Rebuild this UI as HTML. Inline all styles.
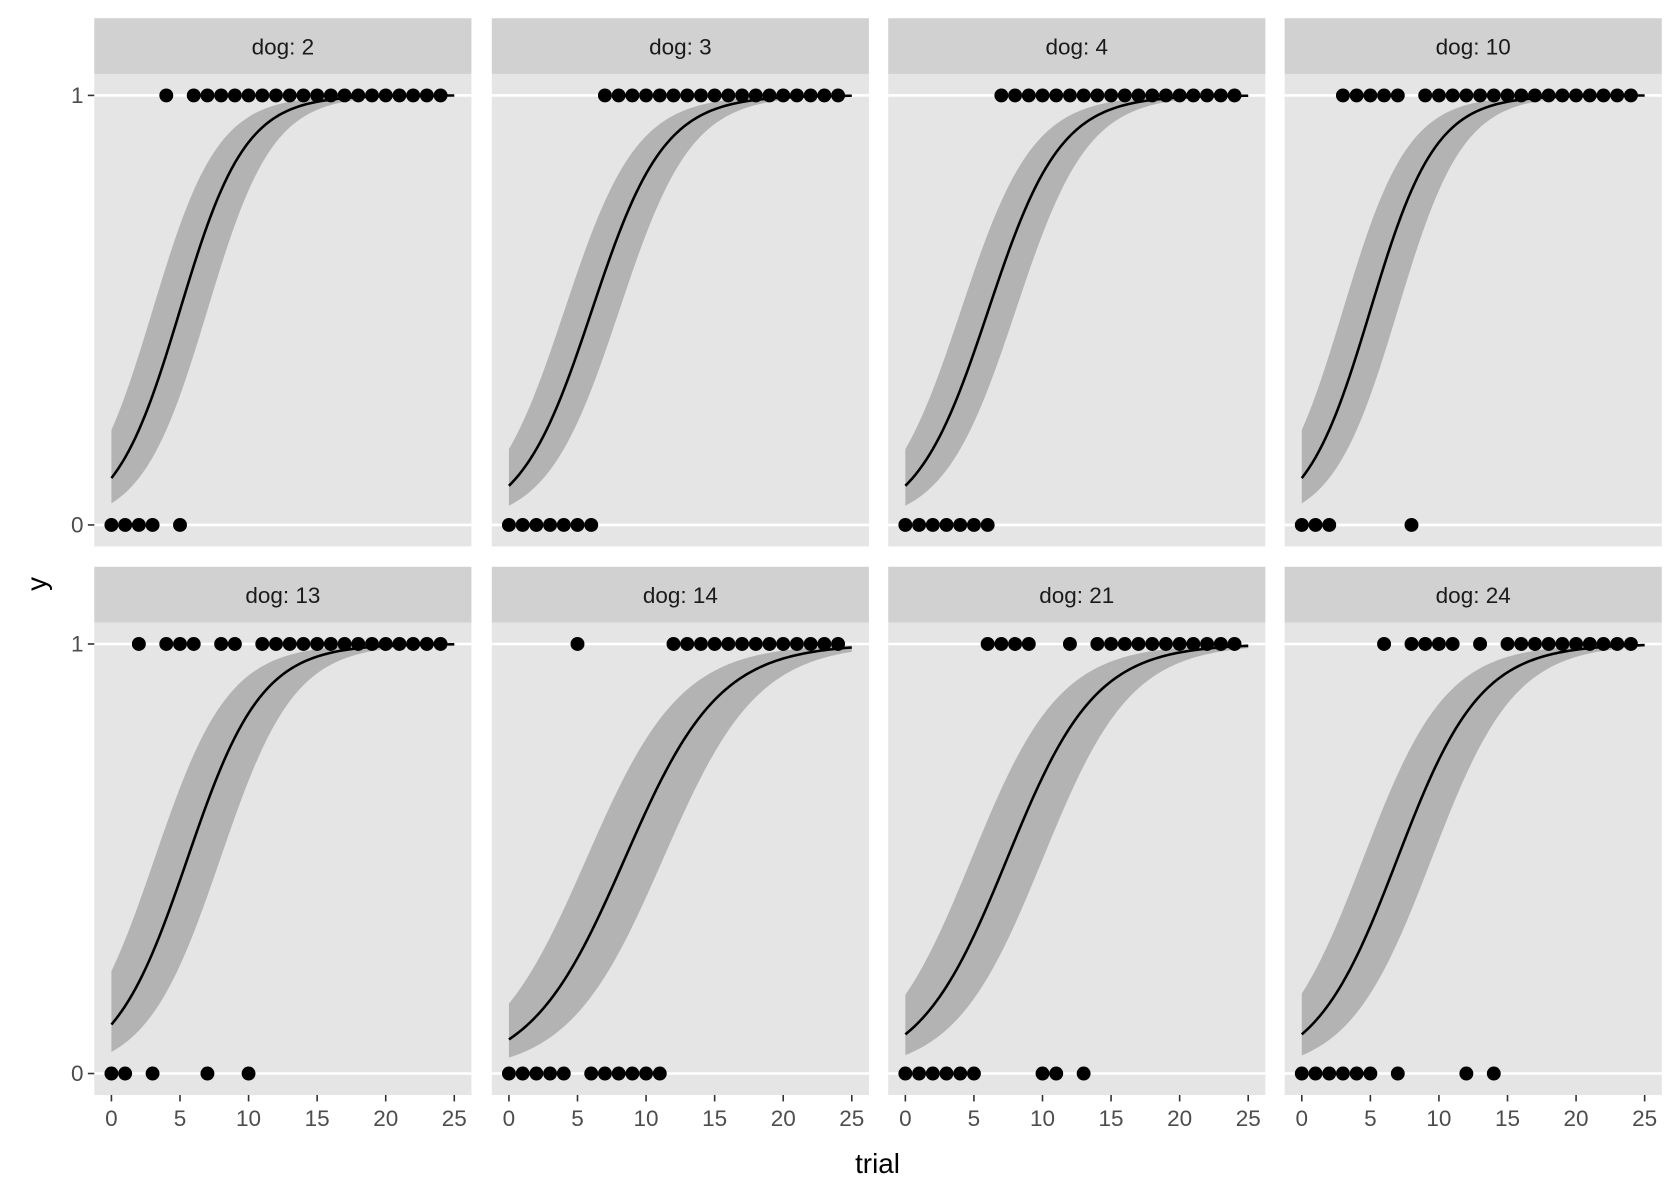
<!DOCTYPE html>
<html><head><meta charset="utf-8"><style>
html,body{margin:0;padding:0;background:#fff;}
svg{display:block;font-family:"Liberation Sans",Arial,sans-serif;}
</style></head><body>
<svg id="chart" width="1680" height="1200" viewBox="0 0 1568 1120" preserveAspectRatio="none" xmlns="http://www.w3.org/2000/svg">
<rect x="0" y="0" width="1568" height="1120" fill="#fff"/>
<g id="plots"></g>
<text x="819" y="1095" font-size="26" text-anchor="middle" fill="#000">trial</text>
<text x="0" y="0" font-size="26" text-anchor="middle" fill="#000" transform="translate(43,545) rotate(-90)">y</text>
</svg>
<script>
const dogs = ["2","3","4","10","13","14","21","24"];
const onesX = [
 [4,6,7,8,9,10,11,12,13,14,15,16,17,18,19,20,21,22,23,24],
 [7,8,9,10,11,12,13,14,15,16,17,18,19,20,21,22,23,24],
 [7,8,9,10,11,12,13,14,15,16,17,18,19,20,21,22,23,24],
 [3,4,5,6,7,9,10,11,12,13,14,15,16,17,18,19,20,21,22,23,24],
 [2,4,5,6,8,9,11,12,13,14,15,16,17,18,19,20,21,22,23,24],
 [5,12,13,14,15,16,17,18,19,20,21,22,23,24],
 [6,7,8,9,12,14,15,16,17,18,19,20,21,22,23,24],
 [6,8,9,10,11,13,15,16,17,18,19,20,21,22,23,24]
];
const zerosX = [
 [0,1,2,3,5],
 [0,1,2,3,4,5,6],
 [0,1,2,3,4,5,6],
 [0,1,2,8],
 [0,1,3,7,10],
 [0,1,2,3,4,6,7,8,9,10,11],
 [0,1,2,3,4,5,10,11,13],
 [0,1,2,3,4,5,7,12,14]
];
const intercepts = [-2.1,-2.3,-2.3,-2.1,-2.05,-2.45,-2.3,-2.3];
const slopes = [0.42,0.38,0.38,0.42,0.37,0.29,0.31,0.33];
const bandShift = [2.0,2.0,2.0,2.0,2.4,2.8,2.6,2.5];
const xTicks = [0,5,10,15,20,25];
const yTicks = [0,1];

const NS="http://www.w3.org/2000/svg";
const root=document.getElementById('plots');
const colX=[88,459,829,1199], panelW=352;
const rowTop=[17,529], stripH=52, panelH=441;
function mk(tag,attrs,parent){const e=document.createElementNS(NS,tag);for(const k in attrs)e.setAttribute(k,attrs[k]);(parent||root).appendChild(e);return e;}
function logistic(v){return 1/(1+Math.exp(-v));}

dogs.forEach((d,i)=>{
  const c=i%4, r=Math.floor(i/4);
  const px=colX[c], st=rowTop[r], py=st+stripH;
  const sx=v=>px+(v+1.25)/27.5*panelW;
  const sy=v=>py+(1.05-v)/1.1*panelH;
  const g=mk('g',{});
  
  
  const strip=mk('rect',{x:px,y:st,width:panelW,height:stripH,fill:'#d1d1d1'},g);
  
  
  const st_t=mk('text',{x:px+panelW/2,y:st+34,'font-size':21,'text-anchor':'middle',fill:'#1a1a1a'},g);
  st_t.textContent='dog: '+d;
  
  
  const bg=mk('rect',{x:px,y:py,width:panelW,height:panelH,fill:'#e5e5e5'},g);
  
  
  yTicks.forEach(t=>{
    const gl=mk('line',{x1:px,x2:px+panelW,y1:sy(t),y2:sy(t),stroke:'#fff','stroke-width':2.4},g);
    
    
  });
  const a=intercepts[i], b=slopes[i], s=bandShift[i];
  let up=[],lo=[],fit=[];
  for(let k=0;k<=100;k++){
    const x=25*k/100;
    up.push(sx(x)+','+sy(logistic(a+b*(x+s))));
    lo.push(sx(x)+','+sy(logistic(a+b*(x-s))));
    fit.push(sx(x)+','+sy(logistic(a+b*x)));
  }
  const rib=mk('polygon',{points:up.concat(lo.reverse()).join(' '),fill:'#b3b3b3'},g);
  
  
  const ln=mk('polyline',{points:fit.join(' '),fill:'none',stroke:'#000','stroke-width':2.4},g);
  
  
  onesX[i].forEach(x=>{
    const p=mk('circle',{cx:sx(x),cy:sy(1),r:6.5,fill:'#000'},g);
    
    
  });
  zerosX[i].forEach(x=>{
    const p=mk('circle',{cx:sx(x),cy:sy(0),r:6.5,fill:'#000'},g);
    
    
  });
  if(c===0){
    yTicks.forEach(t=>{
      mk('line',{x1:px-6,x2:px,y1:sy(t),y2:sy(t),stroke:'#333','stroke-width':1.5},g);
      const tl=mk('text',{x:px-10,y:sy(t)+7,'font-size':21,'text-anchor':'end',fill:'#4d4d4d'},g);
      tl.textContent=t;
      
      
    });
  }
  if(r===1){
    xTicks.forEach(t=>{
      mk('line',{x1:sx(t),x2:sx(t),y1:py+panelH,y2:py+panelH+6,stroke:'#333','stroke-width':1.5},g);
      const tl=mk('text',{x:sx(t),y:py+panelH+29,'font-size':21,'text-anchor':'middle',fill:'#4d4d4d'},g);
      tl.textContent=t;
      
      
    });
  }
});
</script>
</body></html>
